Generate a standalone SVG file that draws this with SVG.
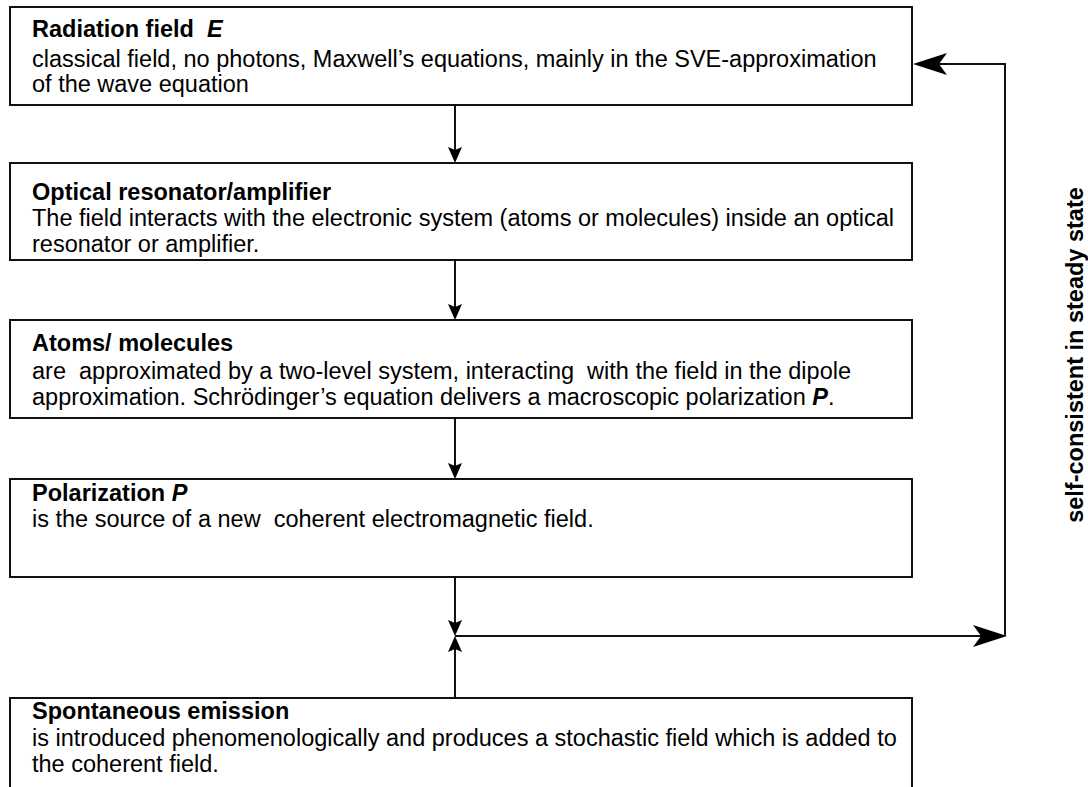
<svg xmlns="http://www.w3.org/2000/svg" width="1088" height="787" viewBox="0 0 1088 787">
<defs>
<style>
.box{fill:#fff;stroke:#111;stroke-width:2}
.t{font-family:"Liberation Sans",Arial,sans-serif;font-size:23.5px;fill:#000}
.b{font-weight:bold}
.bi{font-weight:bold;font-style:italic}
.c{fill:none;stroke:#111;stroke-width:2}
</style>
<marker id="s" markerUnits="userSpaceOnUse" viewBox="-20 -10 30 20" markerWidth="30" markerHeight="20" refX="-6" refY="0" orient="auto">
<path d="M0,0 L-16,-7 L-13,0 L-16,7 Z" fill="#000"/>
</marker>
<marker id="l" markerUnits="userSpaceOnUse" viewBox="-40 -15 50 30" markerWidth="50" markerHeight="30" refX="-6" refY="0" orient="auto">
<path d="M0,0 L-34,-11 L-26,0 L-34,11 Z" fill="#000"/>
</marker>
</defs>
<rect width="1088" height="787" fill="#fff"/>
<g id="connectors">
<line class="c" x1="455" y1="105" x2="455" y2="157" marker-end="url(#s)"/>
<line class="c" x1="455" y1="260" x2="455" y2="314" marker-end="url(#s)"/>
<line class="c" x1="455" y1="418" x2="455" y2="473" marker-end="url(#s)"/>
<line class="c" x1="455" y1="577" x2="455" y2="630" marker-end="url(#s)"/>
<line class="c" x1="455" y1="698" x2="455" y2="642" marker-end="url(#s)"/>
<line class="c" x1="455" y1="636" x2="1001" y2="636" marker-end="url(#l)"/>
<polyline class="c" points="1005,636 1005,64 919,64" marker-end="url(#l)"/>
</g>
<g id="n1">
<rect class="box" x="10" y="7" width="902" height="98"/>
<text class="t" xml:space="preserve"><tspan x="32" y="37" class="b">Radiation field  </tspan><tspan class="bi">E</tspan><tspan x="32" y="67">classical field, no photons, Maxwell’s equations, mainly in the SVE-approximation</tspan><tspan x="32" y="92">of the wave equation</tspan></text>
</g>
<g id="n2">
<rect class="box" x="10" y="163" width="902" height="97"/>
<text class="t" xml:space="preserve"><tspan x="32" y="200" class="b">Optical resonator/amplifier</tspan><tspan x="32" y="226">The field interacts with the electronic system (atoms or molecules) inside an optical</tspan><tspan x="32" y="252">resonator or amplifier.</tspan></text>
</g>
<g id="n3">
<rect class="box" x="10" y="320" width="902" height="98"/>
<text class="t" xml:space="preserve"><tspan x="32" y="351" class="b">Atoms/ molecules</tspan><tspan x="32" y="379">are  approximated by a two-level system, interacting  with the field in the dipole</tspan><tspan x="32" y="405">approximation. Schrödinger’s equation delivers a macroscopic polarization </tspan><tspan class="bi">P</tspan><tspan>.</tspan></text>
</g>
<g id="n4">
<rect class="box" x="10" y="479" width="902" height="98"/>
<text class="t" xml:space="preserve"><tspan x="32" y="501" class="b">Polarization </tspan><tspan class="bi">P</tspan><tspan x="32" y="527">is the source of a new  coherent electromagnetic field.</tspan></text>
</g>
<g id="n5">
<rect class="box" x="10" y="698" width="902" height="120"/>
<text class="t" xml:space="preserve"><tspan x="32" y="719" class="b">Spontaneous emission</tspan><tspan x="32" y="746">is introduced phenomenologically and produces a stochastic field which is added to</tspan><tspan x="32" y="772">the coherent field.</tspan></text>
</g>
<g id="label">
<text class="t b" transform="translate(1083,355) rotate(-90)" text-anchor="middle">self-consistent in steady state</text>
</g>
</svg>
